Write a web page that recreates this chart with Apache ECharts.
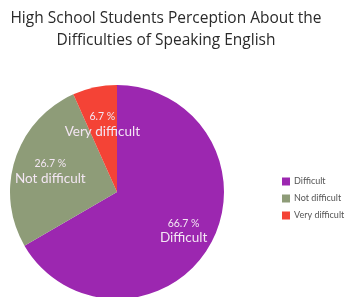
<!DOCTYPE html>
<html><head><meta charset="utf-8">
<script src="https://cdn.jsdelivr.net/npm/echarts@6/dist/echarts.min.js"></script>
<style>html,body{margin:0;padding:0;background:#fff}#c{width:355px;height:297px}</style>
</head><body><div id="c"></div>
<script>
var titleText = 'High School Students Perception About the\nDifficulties of Speaking English';
var categories = ['Difficult', 'Not difficult', 'Very difficult'];
var values = [66.7, 26.7, 6.7];
var colors = ['#9c27b0', '#8e9c78', '#f44336'];

var chart = echarts.init(document.getElementById('c'), null, {renderer: 'canvas'});
var cx = 117, cy = 192;
chart.setOption({
  animation: false,
  title: {
    text: titleText, left: 161, top: 3, textAlign: 'center',
    textStyle: {fontFamily: 'Open Sans', fontWeight: 'normal', fontSize: 15.5, color: '#2a2a2a', lineHeight: 22}
  },
  color: colors,
  legend: {
    orient: 'vertical', left: 277, top: 172, itemWidth: 8, itemHeight: 8, itemGap: 8, icon: 'rect',
    textStyle: {fontFamily: 'Lato', fontSize: 9, color: '#555', padding: [0,0,0,-1]},
    data: categories
  },
  series: [{
    type: 'pie', center: [cx, cy], radius: 107, startAngle: 90, clockwise: true,
    data: categories.map(function (n, i) { return {name: n, value: values[i]}; }),
    label: {
      position: 'inside', formatter: '{p|{c} %}\n{n|{b}}',
      rich: {
        p: {fontFamily: 'Lato', fontSize: 10.5, color: '#f3e6f3', lineHeight: 15, align: 'center'},
        n: {fontFamily: 'Lato', fontSize: 13.5, color: '#f3e6f3', lineHeight: 15, align: 'center'}
      }
    },
    labelLine: {show: false},
    labelLayout: function (p) {
      var r = p.labelRect;
      var lx = r.x + r.width / 2, ly = r.y + r.height / 2;
      var f = p.dataIndex === 0 ? 0.36 : 0.24;
      return {dx: (lx - cx) * f, dy: (ly - cy) * f};
    }
  }]
});
</script></body></html>
